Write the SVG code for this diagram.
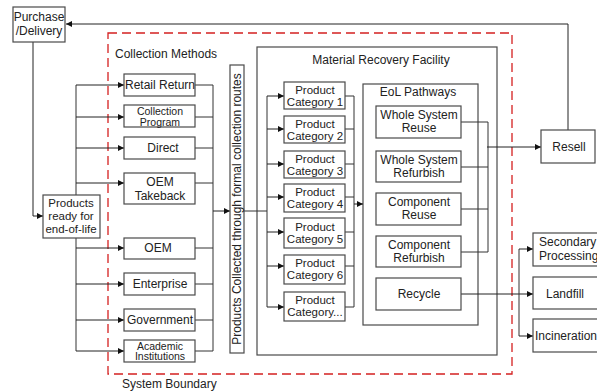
<svg xmlns="http://www.w3.org/2000/svg" width="597" height="392" viewBox="0 0 597 392">
<defs>
<marker id="arr" markerUnits="userSpaceOnUse" markerWidth="7" markerHeight="7" refX="6" refY="3" orient="auto">
<path d="M0,0 L6,3 L0,6 z" fill="#111"/>
</marker>
<style>
.box{fill:#fff;stroke:#4a4a4a;stroke-width:1.2}
.frame{fill:none;stroke:#4a4a4a;stroke-width:1.2}
.ln{fill:none;stroke:#333;stroke-width:1}
.ar{fill:none;stroke:#222;stroke-width:1;marker-end:url(#arr)}
text{font-family:"Liberation Sans",Arial,sans-serif;font-size:12px;fill:#222}
.s{font-size:10.5px}
.m{font-size:11.5px}
.c{text-anchor:middle}
.b{fill:none;stroke:#d42020;stroke-width:1.3;stroke-dasharray:9,5}
</style>
</defs>
<rect class="b" x="108" y="33" width="404" height="341"/>
<text x="122" y="388">System Boundary</text>
<text x="115" y="58">Collection Methods</text>
<g id="mrf">
<rect class="frame" x="257" y="47" width="240" height="308"/>
<text class="c" x="381" y="64">Material Recovery Facility</text>
</g>
<g id="eol">
<rect class="frame" x="363" y="84" width="115" height="241"/>
<text class="c" x="418" y="96">EoL Pathways</text>
</g>
<g id="connectors">
<path class="ar" d="M568,130 V24 H66"/>
<path class="ar" d="M33,42 V216 H43"/>
<path class="ln" d="M76,85 V351"/>
<path class="ar" d="M76,85 H124"/>
<path class="ar" d="M76,117 H124"/>
<path class="ar" d="M76,148 H124"/>
<path class="ar" d="M76,183 H124"/>
<path class="ar" d="M76,248 H124"/>
<path class="ar" d="M76,284 H124"/>
<path class="ar" d="M76,320 H124"/>
<path class="ar" d="M76,351 H124"/>
<path class="ln" d="M195,85 H213 M195,117 H213 M195,148 H213 M195,183 H213 M195,248 H213 M195,284 H213 M195,320 H213 M195,351 H213 M213,85 V351"/>
<path class="ar" d="M213,211 H230"/>
<path class="ln" d="M244,211 H267 M267,96 V307"/>
<path class="ar" d="M267,96 H284"/>
<path class="ar" d="M267,129 H284"/>
<path class="ar" d="M267,164 H284"/>
<path class="ar" d="M267,197 H284"/>
<path class="ar" d="M267,232 H284"/>
<path class="ar" d="M267,266 H284"/>
<path class="ar" d="M267,307 H284"/>
<path class="ln" d="M345,96 H354 M345,129 H354 M345,164 H354 M345,197 H354 M345,232 H354 M345,266 H354 M345,307 H354 M354,96 V307"/>
<path class="ar" d="M354,204 H363"/>
<path class="ln" d="M461,122 H488 M461,167 H488 M461,209 H488 M461,252 H488 M488,122 V252"/>
<path class="ar" d="M487,147 H541"/>
<path class="ar" d="M461,294 H533"/>
<path class="ln" d="M519,249 V336"/>
<path class="ar" d="M519,249 H533"/>
<path class="ar" d="M519,336 H533"/>
</g>
<g id="purchase"><rect class="box" x="13" y="7" width="52" height="35"/><text class="c" x="39" y="21">Purchase</text><text class="c" x="39" y="35">/Delivery</text></g>
<g id="products"><rect class="box" x="43" y="195" width="57" height="43"/><text class="c m" x="71" y="207">Products</text><text class="c m" x="71" y="220">ready for</text><text class="c m" x="71" y="233">end-of-life</text></g>
<g id="retail"><rect class="box" x="124" y="74" width="71" height="22"/><text class="c" x="160" y="89">Retail Return</text></g>
<g id="collprog"><rect class="box" x="124" y="105" width="71" height="22"/><text class="c s" x="160" y="115">Collection</text><text class="c s" x="160" y="125.5">Program</text></g>
<g id="direct"><rect class="box" x="124" y="137" width="71" height="22"/><text class="c" x="163" y="152">Direct</text></g>
<g id="oemtake"><rect class="box" x="124" y="173" width="71" height="31"/><text class="c" x="160" y="186">OEM</text><text class="c" x="160" y="200">Takeback</text></g>
<g id="oem"><rect class="box" x="124" y="238" width="71" height="21"/><text class="c" x="158" y="252">OEM</text></g>
<g id="enterprise"><rect class="box" x="124" y="273" width="71" height="22"/><text class="c" x="160" y="288">Enterprise</text></g>
<g id="government"><rect class="box" x="124" y="309" width="71" height="22"/><text class="c" x="160" y="324">Government</text></g>
<g id="academic"><rect class="box" x="124" y="340" width="71" height="22"/><text class="c s" x="160" y="349.5">Academic</text><text class="c s" x="160" y="360">Institutions</text></g>
<g id="routes"><rect class="box" x="230" y="65" width="14" height="288"/><text class="c" transform="translate(241,209) rotate(-90)" x="0" y="0" font-size="11.5">Products Collected through formal collection routes</text></g>
<g id="cat1"><rect class="box" x="284" y="82" width="61" height="27"/><text class="c m" x="315" y="94">Product</text><text class="c m" x="315" y="106">Category 1</text></g>
<g id="cat2"><rect class="box" x="284" y="116" width="61" height="27"/><text class="c m" x="315" y="128">Product</text><text class="c m" x="315" y="140">Category 2</text></g>
<g id="cat3"><rect class="box" x="284" y="151" width="61" height="27"/><text class="c m" x="315" y="163">Product</text><text class="c m" x="315" y="175">Category 3</text></g>
<g id="cat4"><rect class="box" x="284" y="184" width="61" height="28"/><text class="c m" x="315" y="196">Product</text><text class="c m" x="315" y="208">Category 4</text></g>
<g id="cat5"><rect class="box" x="284" y="218" width="61" height="30"/><text class="c m" x="315" y="231">Product</text><text class="c m" x="315" y="243">Category 5</text></g>
<g id="cat6"><rect class="box" x="284" y="255" width="61" height="29"/><text class="c m" x="315" y="267">Product</text><text class="c m" x="315" y="279">Category 6</text></g>
<g id="catn"><rect class="box" x="284" y="292" width="61" height="29"/><text class="c m" x="315" y="304">Product</text><text class="c m" x="315" y="316">Category...</text></g>
<g id="wsreuse"><rect class="box" x="376" y="106" width="85" height="32"/><text class="c" x="419" y="119">Whole System</text><text class="c" x="419" y="132">Reuse</text></g>
<g id="wsrefurb"><rect class="box" x="376" y="151" width="85" height="31"/><text class="c" x="419" y="163.5">Whole System</text><text class="c" x="419" y="176.5">Refurbish</text></g>
<g id="creuse"><rect class="box" x="376" y="193" width="85" height="32"/><text class="c" x="419" y="206">Component</text><text class="c" x="419" y="219">Reuse</text></g>
<g id="crefurb"><rect class="box" x="376" y="236" width="85" height="31"/><text class="c" x="419" y="248.5">Component</text><text class="c" x="419" y="261.5">Refurbish</text></g>
<g id="recycle"><rect class="box" x="376" y="278" width="85" height="32"/><text class="c" x="419" y="298">Recycle</text></g>
<g id="resell"><rect class="box" x="541" y="130" width="54" height="33"/><text class="c" x="569" y="151">Resell</text></g>
<g id="secondary"><rect class="box" x="533" y="233" width="66" height="33"/><text x="539" y="246">Secondary</text><text x="539" y="260">Processing</text></g>
<g id="landfill"><rect class="box" x="533" y="277" width="66" height="32"/><text class="c" x="565" y="298">Landfill</text></g>
<g id="incineration"><rect class="box" x="533" y="319" width="66" height="33"/><text x="535" y="340">Incineration</text></g>
</svg>
